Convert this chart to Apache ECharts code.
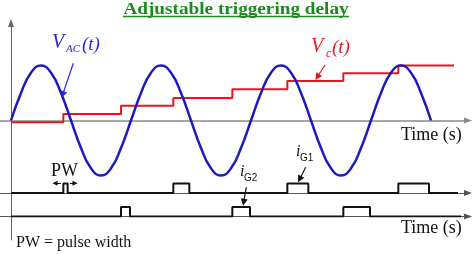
<!DOCTYPE html>
<html><head><meta charset="utf-8">
<script src="https://cdn.jsdelivr.net/npm/echarts@6/dist/echarts.min.js"></script>
<style>html,body{margin:0;padding:0;background:#fff}#c{width:474px;height:254px}</style>
</head><body><div id="c"></div>
<script>
// AC voltage: phase angle (deg) and normalised value
const acAngles = [0,30,60,90,120,150,180,210,240,270,300,330,
  360,390,420,450,480,510,540,570,600,630,660,690,
  720,750,780,810,840,870,900,930,960,990,1020,1050,
  1080,1110,1140,1170,1200,1230,1260];
const acValues = [0,0.5,0.87,1,0.87,0.5,0,-0.5,-0.87,-1,-0.87,-0.5,
  0,0.5,0.87,1,0.87,0.5,0,-0.5,-0.87,-1,-0.87,-0.5,
  0,0.5,0.87,1,0.87,0.5,0,-0.5,-0.87,-1,-0.87,-0.5,
  0,0.5,0.87,1,0.87,0.5,0];
// control voltage staircase
const stepTimes = [0,157,330,487,664,829,997,1162,1329];
const stepLevels = [-0.03,0.12,0.27,0.41,0.57,0.72,0.86,1.0];
// gate pulses [start, end]
const g1Pulses = [[157,170],[487,535],[829,892],[1162,1254]];
const g1End = 1341;
const g2Pulses = [[330,357],[664,717],[997,1077]];
const g2End = 1350;
const pulseHigh = 1;

const acData = acAngles.map((a,i)=>[a, acValues[i]]);
const vcData = [];
for (let i=0;i<stepLevels.length;i++){ vcData.push([stepTimes[i],stepLevels[i]]); vcData.push([stepTimes[i+1],stepLevels[i]]); }
function pulses(list,end){ const d=[[0,0]]; list.forEach(p=>{d.push([p[0],0],[p[0],pulseHigh],[p[1],pulseHigh],[p[1],0]);}); d.push([end,0]); return d; }

const chart = echarts.init(document.getElementById('c'), null, {renderer:'canvas'});
const XMIN=-33, XMAX=1371;
function xAx(gi, color, width){
  return {type:'value', gridIndex:gi, min:XMIN, max:XMAX,
    axisLine:{show:true, onZero:true, symbol:['none','triangle'], symbolSize:[6,8], lineStyle:{color:color, width:width}},
    axisTick:{show:false}, axisLabel:{show:false}, splitLine:{show:false}};
}
const serif = "'Liberation Serif','Times New Roman',serif";
const arrowML = (color, from, to, size) => ({silent:true, symbol:['none','triangle'], symbolSize:size||7, label:{show:false},
  lineStyle:{color:color, width:1.2, type:'solid'}, emphasis:{disabled:true}, data:[[{coord:from},{coord:to}]]});

chart.setOption({
  animation:false,
  backgroundColor:'#fff',
  grid:[
    {left:0,right:6,top:23,height:217,outerBoundsMode:'none'},
    {left:0,right:6,top:155,height:38,outerBoundsMode:'none'},
    {left:0,right:6,top:178.5,height:38,outerBoundsMode:'none'}
  ],
  xAxis:[xAx(0,'#8a8a8a',1.5), xAx(1,'#555',1), xAx(2,'#555',1)],
  yAxis:[
    {type:'value', gridIndex:0, min:-2.1727, max:1.7727,
     axisLine:{show:true,onZero:true,symbol:['none','triangle'],symbolSize:[6,8],lineStyle:{color:'#666',width:1}},
     axisTick:{show:false}, axisLabel:{show:false}, splitLine:{show:false}},
    {type:'value', gridIndex:1, min:0, max:4, show:false},
    {type:'value', gridIndex:2, min:0, max:4, show:false}
  ],
  series:[
    {type:'line', xAxisIndex:0, yAxisIndex:0, data:vcData, symbol:'none', lineStyle:{color:'#e8161c', width:2}, z:3,
     markLine: arrowML('#e8161c',[942,1.01],[919,0.79])},
    {type:'line', xAxisIndex:0, yAxisIndex:0, data:acData, smooth:0.5, symbol:'none', lineStyle:{color:'#1c1cbc', width:2.5}, z:4,
     markLine: arrowML('#2a2ad0',[187,1.04],[155,0.47])},
    {type:'line', xAxisIndex:1, yAxisIndex:1, data:pulses(g1Pulses,g1End), symbol:'none', lineStyle:{color:'#111', width:2}, z:3,
     markLine:{silent:true, symbol:['none','triangle'], symbolSize:5, label:{show:false}, lineStyle:{color:'#111',width:1,type:'solid'},
       data:[[{coord:[150,1.02]},{coord:[132,1.02]}],[{coord:[177,1.02]},{coord:[192,1.02]}]]}},
    {type:'line', xAxisIndex:1, yAxisIndex:1, data:[], symbol:'none', z:3,
     markLine: arrowML('#111',[884,2.7],[866,1.45],7)},
    {type:'line', xAxisIndex:2, yAxisIndex:2, data:pulses(g2Pulses,g2End), symbol:'none', lineStyle:{color:'#111', width:2}, z:3,
     markLine: arrowML('#111',[706,3.1],[698,1.5],7)}
  ],
  graphic:[
    {type:'text', x:236, y:10, scaleX:1.13, originX:0, originY:0, style:{text:'Adjustable triggering delay', font:"bold 17px "+serif, fill:'#1a8c1a', align:'center', verticalAlign:'middle'}},
    {type:'line', shape:{x1:123,y1:16.5,x2:349,y2:16.5}, style:{stroke:'#1a8c1a', lineWidth:1.5}},
    {type:'text', x:52, y:43, style:{text:'V', font:"italic 20px "+serif, fill:'#2a2ad0', verticalAlign:'middle'}},
    {type:'text', x:66, y:49, style:{text:'AC', font:"italic 11px "+serif, fill:'#2a2ad0', verticalAlign:'middle'}},
    {type:'text', x:82, y:45, style:{text:'(t)', font:"italic 19px "+serif, fill:'#2a2ad0', verticalAlign:'middle'}},
    {type:'text', x:311, y:47, style:{text:'V', font:"italic 20px "+serif, fill:'#e8202a', verticalAlign:'middle'}},
    {type:'text', x:326, y:54, style:{text:'c', font:"italic 12px "+serif, fill:'#e8202a', verticalAlign:'middle'}},
    {type:'text', x:332, y:48, style:{text:'(t)', font:"italic 19px "+serif, fill:'#e8202a', verticalAlign:'middle'}},
    {type:'text', x:401, y:135, style:{text:'Time (s)', font:"18px "+serif, fill:'#111', verticalAlign:'middle'}},
    {type:'text', x:401, y:228, style:{text:'Time (s)', font:"18px "+serif, fill:'#111', verticalAlign:'middle'}},
    {type:'text', x:51, y:171, style:{text:'PW', font:"18px "+serif, fill:'#111', verticalAlign:'middle'}},
    {type:'text', x:16, y:243, style:{text:'PW = pulse width', font:"16px "+serif, fill:'#111', verticalAlign:'middle'}},
    {type:'text', x:296, y:152, style:{text:'i', font:"italic 16px "+serif, fill:'#111', verticalAlign:'middle'}},
    {type:'text', x:300, y:158, style:{text:'G1', font:"10px 'Liberation Sans',Arial,sans-serif", fill:'#111', verticalAlign:'middle'}},
    {type:'text', x:240, y:172, style:{text:'i', font:"italic 16px "+serif, fill:'#111', verticalAlign:'middle'}},
    {type:'text', x:244, y:178, style:{text:'G2', font:"10px 'Liberation Sans',Arial,sans-serif", fill:'#111', verticalAlign:'middle'}}
  ]
});
</script></body></html>
